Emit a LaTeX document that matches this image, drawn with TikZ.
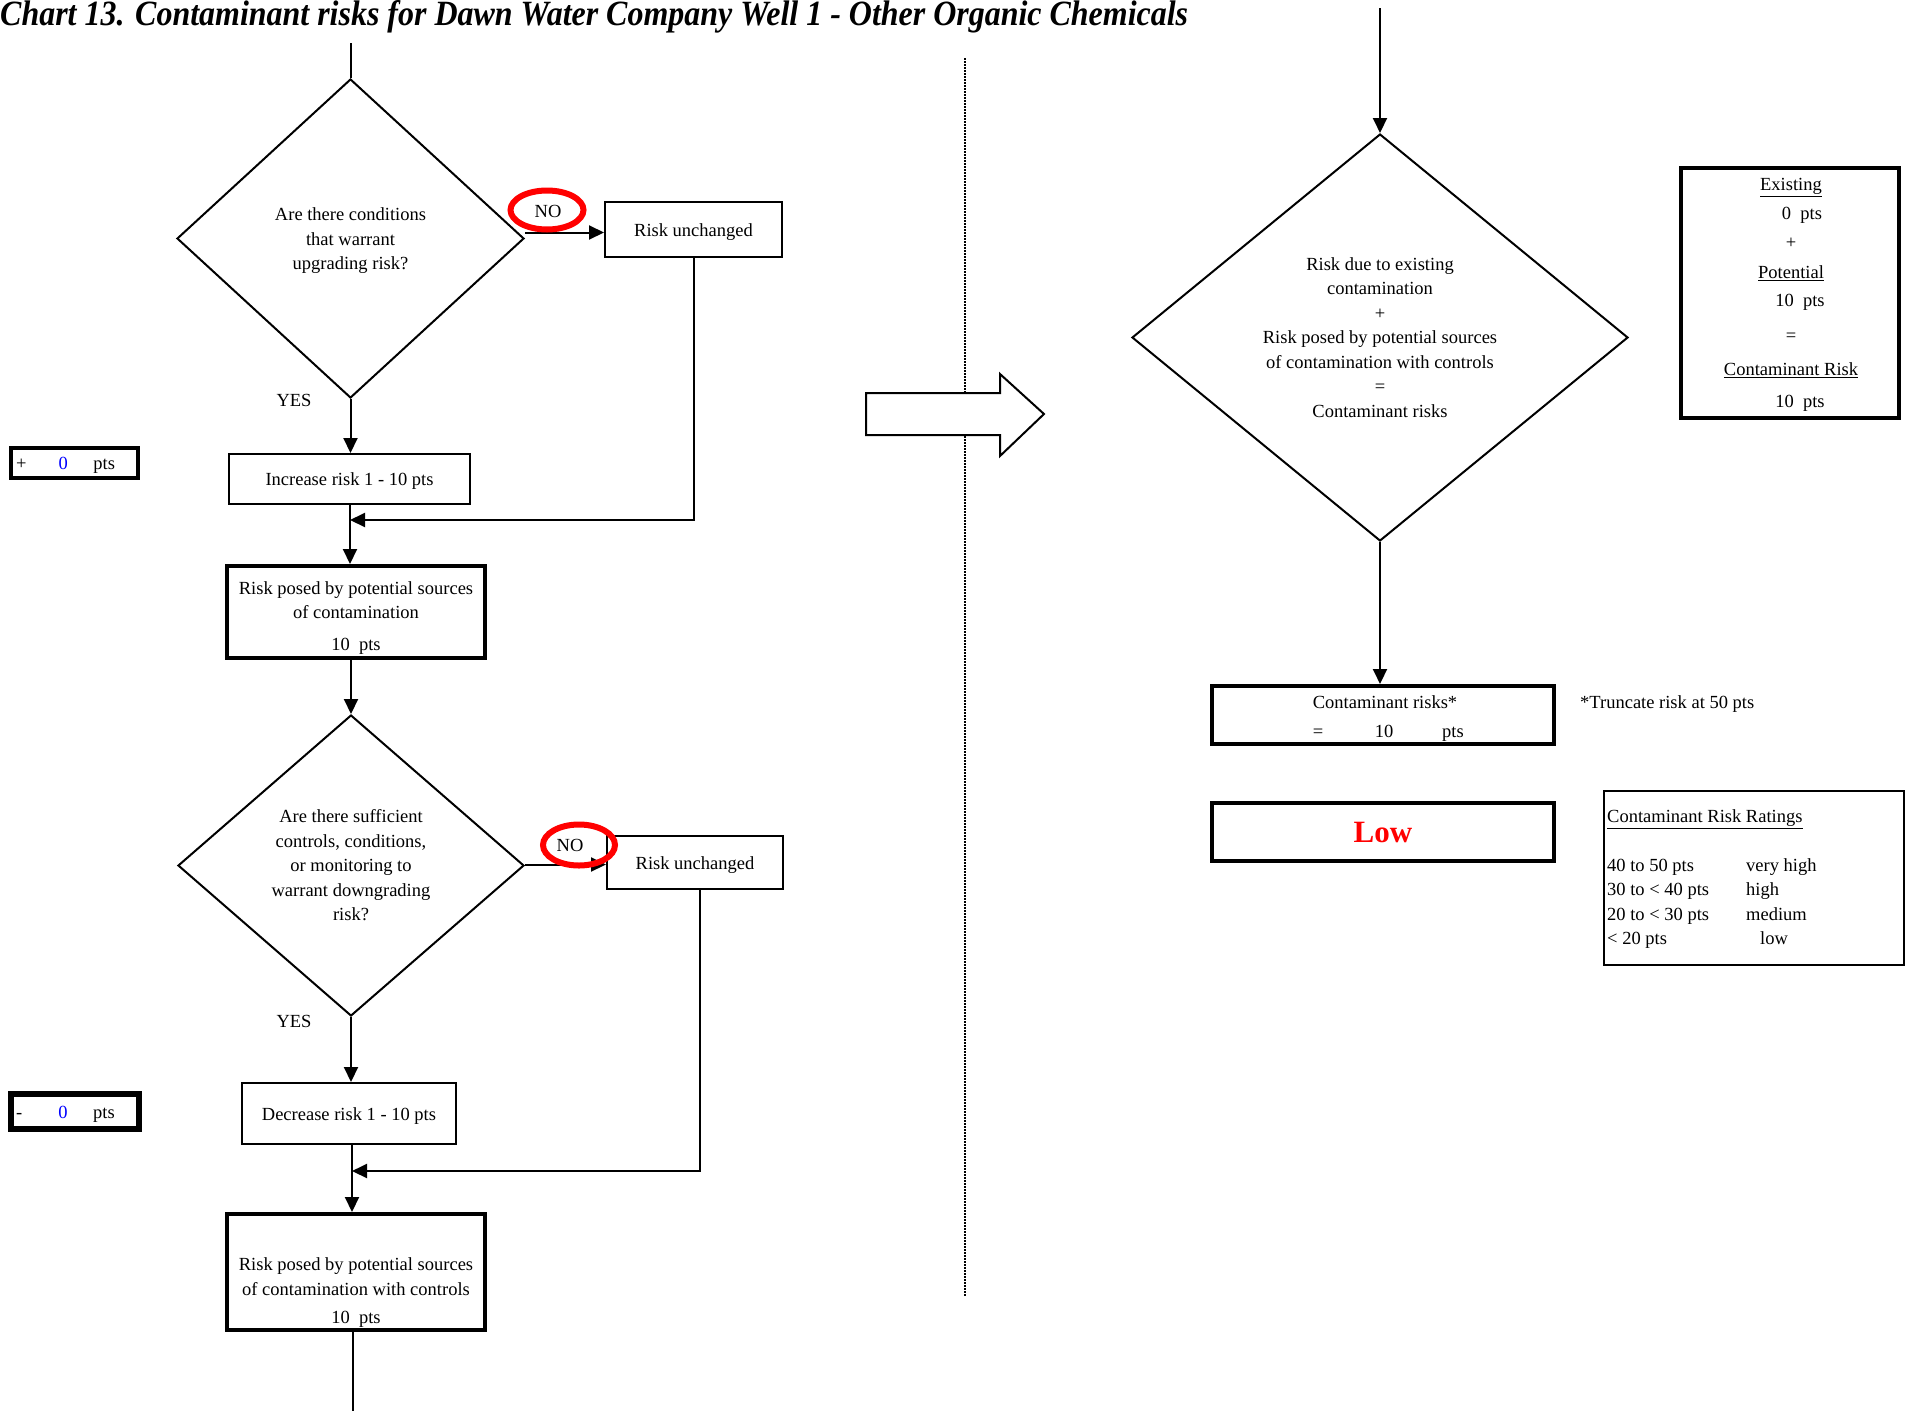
\documentclass[tikz,border=0pt]{standalone}
\usepackage{fontspec}
\setmainfont{Liberation Serif}
\usepackage{graphicx}
\usetikzlibrary{shapes.geometric, arrows.meta}
\tikzset{
  conn/.style={line width=2pt},
  arr/.style={conn, -{Triangle[length=15pt,width=14pt]}},
  thinbox/.style={draw, line width=2pt, inner sep=0, align=center},
  thickbox/.style={draw, line width=4pt, inner sep=0, align=center},
  dia/.style={draw, diamond, line width=2pt, inner sep=0, align=center},
  noring/.style={draw=red, ellipse, line width=6pt, inner sep=0},
  lowtext/.style={text height=15pt, text depth=1.5pt},
  txt/.style={inner sep=0, lowtext},
}
\begin{document}
\begin{tikzpicture}[x=1pt,y=-1pt, every node/.style={font=\fontsize{18.5}{24.5}\selectfont}]
\fill[white] (0,0) rectangle (1910,1411);
\useasboundingbox (0,0) rectangle (1910,1411);

% title
\node[anchor=base west, inner sep=0] (title) at (0,25) {\resizebox{1188pt}{25pt}{\fontsize{33}{33}\selectfont\bfseries\itshape Chart 13. Contaminant risks for Dawn Water Company Well 1 - Other Organic Chemicals}};

% divider and big arrow
\draw[line width=1.5pt, dash pattern=on 1.5pt off 1.5pt] (965,58) -- (965,1297);
\draw[line width=2pt, fill=white] (866,393) -- (1000,393) -- (1000,374) -- (1044,414) -- (1000,456) -- (1000,435) -- (866,435) -- cycle;

% left column
\coordinate (top1) at (350.5,43);
\node[dia, minimum width=347, minimum height=319] (d1) at (350.5,238.5) {};
\node[inner sep=0, align=center] (d1t) at (350.5,241) {Are there conditions\\that warrant\\upgrading risk?};
\node[thinbox, minimum width=177, minimum height=55, lowtext] (ru1) at (693.5,229.5) {Risk unchanged};
\node[txt] (yes1) at (294,400) {YES};
\node[thinbox, minimum width=241, minimum height=50, lowtext] (inc) at (349.5,479) {Increase risk 1 - 10 pts};
\node[thickbox, minimum width=127, minimum height=30] (pbox) at (74.5,463) {};
\node[txt, anchor=west] (ptxt) at (16,463) {+\hspace{32pt}\textcolor{blue}{0}\hspace{25.5pt}pts};
\coordinate (j1) at (350,520);
\node[thickbox, minimum width=258, minimum height=92] (rp) at (356,612) {};
\node[inner sep=0, align=center] (rpt) at (356,618)
  {Risk posed by potential sources\\of contamination\\[7pt]10~~pts};

\node[dia, minimum width=346, minimum height=301, shape aspect=1.15] (d2) at (351,865.5)
  {Are there sufficient\\controls, conditions,\\or monitoring to\\warrant downgrading\\risk?};
\node[thinbox, minimum width=176, minimum height=53, lowtext] (ru2) at (695,862.5) {Risk unchanged};
\node[txt] (yes2) at (294,1021) {YES};
\node[thinbox, minimum width=214, minimum height=61, lowtext] (dec) at (349,1113.5) {Decrease risk 1 - 10 pts};
\node[draw, line width=5.5pt, minimum width=128, minimum height=35, inner sep=0] (mbox) at (75,1111.5) {};
\node[txt, anchor=west] (mtxt) at (16,1111.5) {-\hspace{36pt}\textcolor{blue}{0}\hspace{25.5pt}pts};
\coordinate (j2) at (352,1171);
\node[thickbox, minimum width=258, minimum height=116] (fin) at (356,1272) {};
\node[inner sep=0, align=center] (fintxt) at (356,1293)
  {Risk posed by potential sources\\of contamination with controls\\[4pt]10~~pts};
\coordinate (bot1) at (353,1411);

% right column
\coordinate (top2) at (1380,8);
\node[dia, minimum width=496, minimum height=407, shape aspect=1.22] (d3) at (1380,337.5)
  {Risk due to existing\\contamination\\+\\Risk posed by potential sources\\of contamination with controls\\=\\Contaminant risks};
\node[thickbox, minimum width=342, minimum height=58] (cr) at (1383,715) {};
\node[txt] (cr1) at (1385,702) {Contaminant risks*};
\node[txt] (cr2) at (1318,731) {=};
\node[txt] (cr3) at (1384,731) {10};
\node[txt] (cr4) at (1453,731) {pts};
\node[txt, anchor=west] (trunc) at (1580,702) {*Truncate risk at 50 pts};
\node[thickbox, minimum width=342, minimum height=58, text=red, font=\fontsize{31}{31}\selectfont\bfseries] (low) at (1383,832) {Low};

\node[thickbox, minimum width=218, minimum height=250] (exb) at (1790,293) {};
\node[txt] (ex1) at (1791,184) {\underline{Existing}};
\node[txt] (ex2) at (1802,213) {0~~pts};
\node[txt] (ex3) at (1791,242) {+};
\node[txt] (ex4) at (1791,272) {\underline{Potential}};
\node[txt] (ex5) at (1800,300) {10~~pts};
\node[txt] (ex6) at (1791,335) {=};
\node[txt] (ex7) at (1791,369) {\underline{Contaminant Risk}};
\node[txt] (ex8) at (1800,401) {10~~pts};

\node[thinbox, minimum width=300, minimum height=174] (rat) at (1754,878) {};
\node[txt, anchor=west] (r0) at (1607,816) {\underline{Contaminant Risk Ratings}};
\node[txt, anchor=west] (r1a) at (1607,865) {40 to 50 pts};
\node[txt, anchor=west] (r1b) at (1746,865) {very high};
\node[txt, anchor=west] (r2a) at (1607,889) {30 to < 40 pts};
\node[txt, anchor=west] (r2b) at (1746,889) {high};
\node[txt, anchor=west] (r3a) at (1607,914) {20 to < 30 pts};
\node[txt, anchor=west] (r3b) at (1746,914) {medium};
\node[txt, anchor=west] (r4a) at (1607,938) {< 20 pts};
\node[txt, anchor=west] (r4b) at (1760,938) {low};

% connectors
\draw[conn] (top1) -- (d1.north);
\draw[arr] ([yshift=6pt]d1.east) coordinate (a1) -- (a1 -| ru1.west);
\draw[arr] (ru1.south) |- (j1);
\draw[arr] (d1.south) -- (d1.south |- inc.north);
\draw[arr] (j1 |- inc.south) -- (j1 |- rp.north);
\draw[arr] (d2.north |- rp.south) -- (d2.north);
\draw[arr] ([yshift=1pt]d2.east) coordinate (a2) -- (a2 -| ru2.west);
\draw[arr] ([xshift=5pt]ru2.south) |- (j2);
\draw[arr] (d2.south) -- (d2.south |- dec.north);
\draw[arr] (j2 |- dec.south) -- (j2 |- fin.north);
\draw[conn] (bot1 |- fin.south) -- (bot1);
\draw[arr] (top2) -- (d3.north);
\draw[arr] (d3.south) -- (d3.south |- cr.north);

% NO rings
\node[txt] (no1) at (548,211) {NO};
\node[noring, minimum width=73, minimum height=39] (ring1) at (547,210) {};
\node[txt] (no2) at (570,845) {NO};
\node[noring, minimum width=72, minimum height=41] (ring2) at (579,845) {};
\end{tikzpicture}
\end{document}
